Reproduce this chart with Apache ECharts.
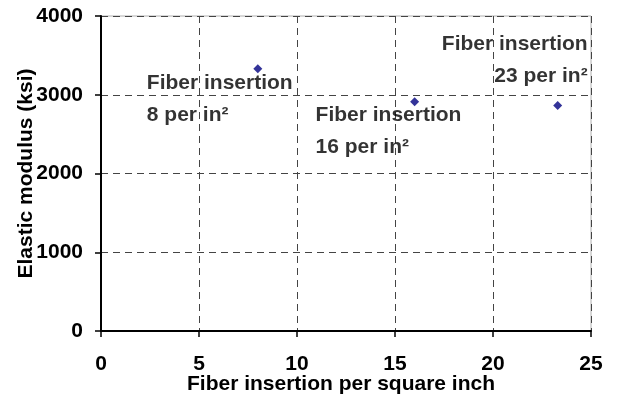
<!DOCTYPE html>
<html><head><meta charset="utf-8">
<script src="https://cdn.jsdelivr.net/npm/echarts@6/dist/echarts.min.js"></script>
<style>html,body{margin:0;padding:0;background:#fff}#c{width:619px;height:400px}</style>
</head><body><div id="c"></div>
<script>
var fiberPerSqIn = [8, 16, 23.3];
var elasticModulus = [3330, 2910, 2865];
var labelLine1 = ['Fiber insertion', 'Fiber insertion', 'Fiber insertion'];
var labelLine2 = ['8 per in²', '16 per in²', '23 per in²'];
var xTicks = [0, 5, 10, 15, 20, 25];
var yTicks = [0, 1000, 2000, 3000, 4000];

// label placement (pixels relative to point) – styling only
var labelStyle = [
  {dx: -111, dy: -2, align: 'left'},
  {dx: -99, dy: -3, align: 'left'},
  {dx: 30, dy: -77, align: 'right'}
];
var SYM = 9;
var FONT = 'Liberation Sans, Arial, sans-serif';
var FS = 21;

var data = fiberPerSqIn.map(function (x, i) {
  var s = labelStyle[i];
  return {
    value: [x, elasticModulus[i]],
    label: {
      show: true,
      color: '#000',
      position: 'right',
      distance: 0,
      offset: [s.dx - SYM / 2, s.dy],
      align: s.align,
      verticalAlign: 'top',
      formatter: '{a|' + labelLine1[i] + '}\n{a|' + labelLine2[i] + '}',
      rich: { a: { fontFamily: FONT, fontWeight: 'bold', fontSize: FS, lineHeight: 32, color: '#000', align: s.align } }
    }
  };
});

var chart = echarts.init(document.getElementById('c'), null, {renderer: 'canvas'});
var dash = {color: '#444', width: 1, type: [7, 5]};
chart.setOption({
  animation: false,
  backgroundColor: '#fff',
  grid: {left: 101, right: 28, top: 16, bottom: 69, outerBoundsMode: 'none', containLabel: false,
    show: true, borderColor: '#b0b0b0', borderWidth: 1, backgroundColor: 'transparent'},
  xAxis: {
    type: 'value', min: xTicks[0], max: xTicks[xTicks.length - 1], interval: 5,
    name: 'Fiber insertion per square inch', nameLocation: 'middle', nameGap: 43, nameMoveOverlap: false,
    nameTextStyle: {fontFamily: FONT, fontWeight: 'bold', fontSize: FS, color: '#000', padding: [0, 10, 0, 0]},
    axisLine: {show: true, lineStyle: {color: '#000', width: 2}},
    axisTick: {show: true, inside: false, length: 6, lineStyle: {color: '#000', width: 1.5}},
    axisLabel: {fontFamily: FONT, fontWeight: 'bold', fontSize: FS, color: '#000', margin: 23,
      formatter: function (v) { return String(v); }},
    splitLine: {show: true, lineStyle: dash}
  },
  yAxis: {
    type: 'value', min: yTicks[0], max: yTicks[yTicks.length - 1], interval: 1000,
    name: 'Elastic modulus (ksi)', nameLocation: 'middle', nameGap: 64, nameMoveOverlap: false,
    nameTextStyle: {fontFamily: FONT, fontWeight: 'bold', fontSize: FS, color: '#000'},
    axisLine: {show: true, lineStyle: {color: '#000', width: 2}},
    axisTick: {show: true, inside: false, length: 6, lineStyle: {color: '#000', width: 1.5}},
    axisLabel: {fontFamily: FONT, fontWeight: 'bold', fontSize: FS, color: '#000', margin: 18,
      formatter: function (v) { return String(v); }},
    splitLine: {show: true, lineStyle: dash}
  },
  series: [{
    type: 'scatter',
    symbol: 'diamond',
    symbolSize: SYM,
    itemStyle: {color: '#000080'},
    data: data
  }]
});
</script></body></html>
